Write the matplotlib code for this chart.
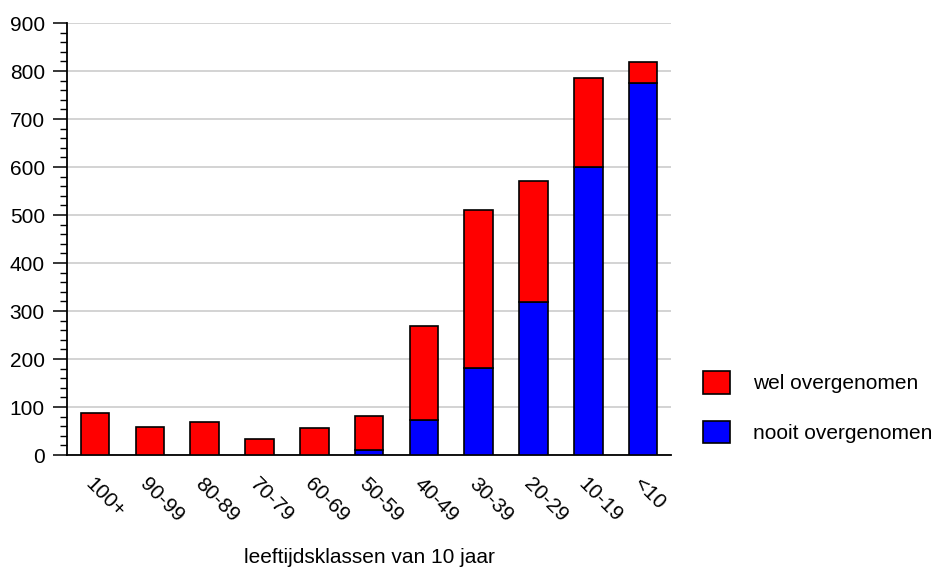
import matplotlib
matplotlib.use("Agg")
import matplotlib.pyplot as plt
from matplotlib.patches import Patch
from matplotlib.ticker import MultipleLocator
import numpy as np

plt.rcParams['font.family'] = ['Liberation Sans', 'DejaVu Sans']

klassen = ["100+", "90-99", "80-89", "70-79", "60-69", "50-59",
           "40-49", "30-39", "20-29", "10-19", "<10"]
nooit = [0, 0, 0, 0, 0, 10, 73, 181, 318, 601, 775]
wel = [88, 58, 69, 33, 56, 71, 196, 329, 252, 184, 44]

fig = plt.figure(figsize=(9.4, 5.67), dpi=100)
ax = fig.add_axes([0.0713, 0.1975, 0.6427, 0.7619])

x = np.arange(len(klassen))
ax.bar(x, nooit, width=0.52, color="#0000ff", edgecolor="black", linewidth=1.2, zorder=3)
ax.bar(x, wel, width=0.52, bottom=nooit, color="#ff0000", edgecolor="black", linewidth=1.2, zorder=3)

ax.set_xlim(-0.51, len(klassen) - 0.49)
ax.set_ylim(0, 900)
ax.yaxis.set_major_locator(MultipleLocator(100))
ax.yaxis.set_minor_locator(MultipleLocator(20))
ax.grid(axis="y", color="#d0d0d0", linewidth=1.3, zorder=0)

for s in ["top", "right"]:
    ax.spines[s].set_visible(False)
ax.spines["left"].set_linewidth(1.3)
ax.spines["bottom"].set_linewidth(1.3)

ax.tick_params(axis="y", which="major", length=10, width=1.1, pad=6, labelsize=15)
ax.tick_params(axis="y", which="minor", length=5, width=1.0)
ax.tick_params(axis="x", length=0, pad=14, labelsize=15)
ax.set_xticks(x)
ax.set_xticklabels(klassen, rotation=-45, ha="left", va="top", rotation_mode="anchor")

ax.set_xlabel("leeftijdsklassen van 10 jaar", fontsize=15, labelpad=16)

handles = [Patch(facecolor="#ff0000", edgecolor="black", linewidth=1.2, label="wel overgenomen"),
           Patch(facecolor="#0000ff", edgecolor="black", linewidth=1.2, label="nooit overgenomen")]
fig.legend(handles=handles, loc="center left", bbox_to_anchor=(0.7365, 0.282),
           frameon=False, fontsize=15, handlelength=1.3, handleheight=1.3,
           handletextpad=1.1, labelspacing=1.3, borderpad=0)

fig.savefig("out.png", dpi=100)
